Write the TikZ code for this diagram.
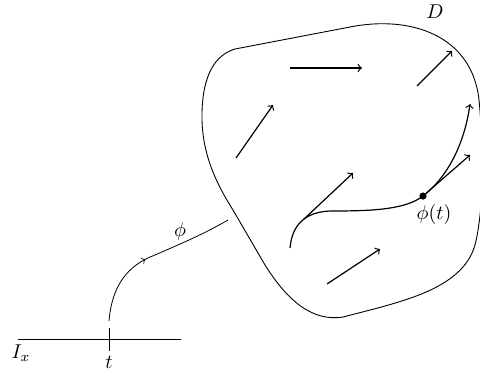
\documentclass[tikz,border=0pt]{standalone}
\usetikzlibrary{decorations.markings}
\begin{document}
\begin{tikzpicture}[x=0.5pt,y=-0.5pt,
  vec/.style={semithick,->},
  outline/.style={line width=0.45pt},
  lab/.style={inner sep=0pt}]
\useasboundingbox (0,0) rectangle (480,371);
% region D
\draw[outline] (235,49) -- (350,27)
  .. controls (410,15) and (472,35) .. (479,100)
  .. controls (483,140) and (485,205) .. (475,245)
  .. controls (462,290) and (400,302) .. (343,317)
  .. controls (312,322) and (287,300) .. (265,265)
  -- (233,210)
  .. controls (214,180) and (201,150) .. (202,112)
  .. controls (203,75) and (215,55) .. (235,49) -- cycle;
\node[lab] (D) at (435,12) {$D$};
% vector field arrows
\coordinate (a1s) at (290,68);  \coordinate (a1e) at (362,68);
\coordinate (a2s) at (417,86);  \coordinate (a2e) at (452,51);
\coordinate (a3s) at (236,158); \coordinate (a3e) at (273,105);
\coordinate (a4s) at (327,284); \coordinate (a4e) at (380,249);
\draw[vec] (a1s) -- (a1e);
\draw[vec] (a2s) -- (a2e);
\draw[vec] (a3s) -- (a3e);
\draw[vec] (a4s) -- (a4e);
% integral curve
\coordinate (c0) at (290,248);
\coordinate (c1) at (330,211);
\coordinate (p) at (423,196);
\coordinate (c3) at (470,104);
\draw[vec] (c0) .. controls (292,225) and (305,212) .. (c1)
  .. controls (370,211) and (405,210) .. (p)
  .. controls (450,175) and (465,140) .. (c3);
\coordinate (b0) at (304,219); \coordinate (b1) at (353,173);
\draw[vec] (b0) -- (b1);
\coordinate (t1) at (470,155);
\draw[vec] (p) -- (t1);
\fill (p) circle[radius=1.8pt];
\node[lab] (pl) at (434,214) {$\phi(t)$};
% map phi
\coordinate (f0) at (109,321);
\coordinate (f1) at (228,220);
\draw[decoration={markings,mark=at position 0.45 with {\arrow{>}}},postaction={decorate}]
  (f0) .. controls (112,285) and (128,265) .. (155,255)
  .. controls (180,244) and (202,235) .. (f1);
\node[lab] (fl) at (180,231) {$\phi$};
% interval
\coordinate (i0) at (18,339); \coordinate (i1) at (181,339);
\draw (i0) -- (i1);
\coordinate (k0) at (109,328); \coordinate (k1) at (109,351);
\draw (k0) -- (k1);
\node[lab] (Ix) at (21,353) {$I_x$};
\node[lab] (tl) at (109,362) {$t$};
\end{tikzpicture}
\end{document}
